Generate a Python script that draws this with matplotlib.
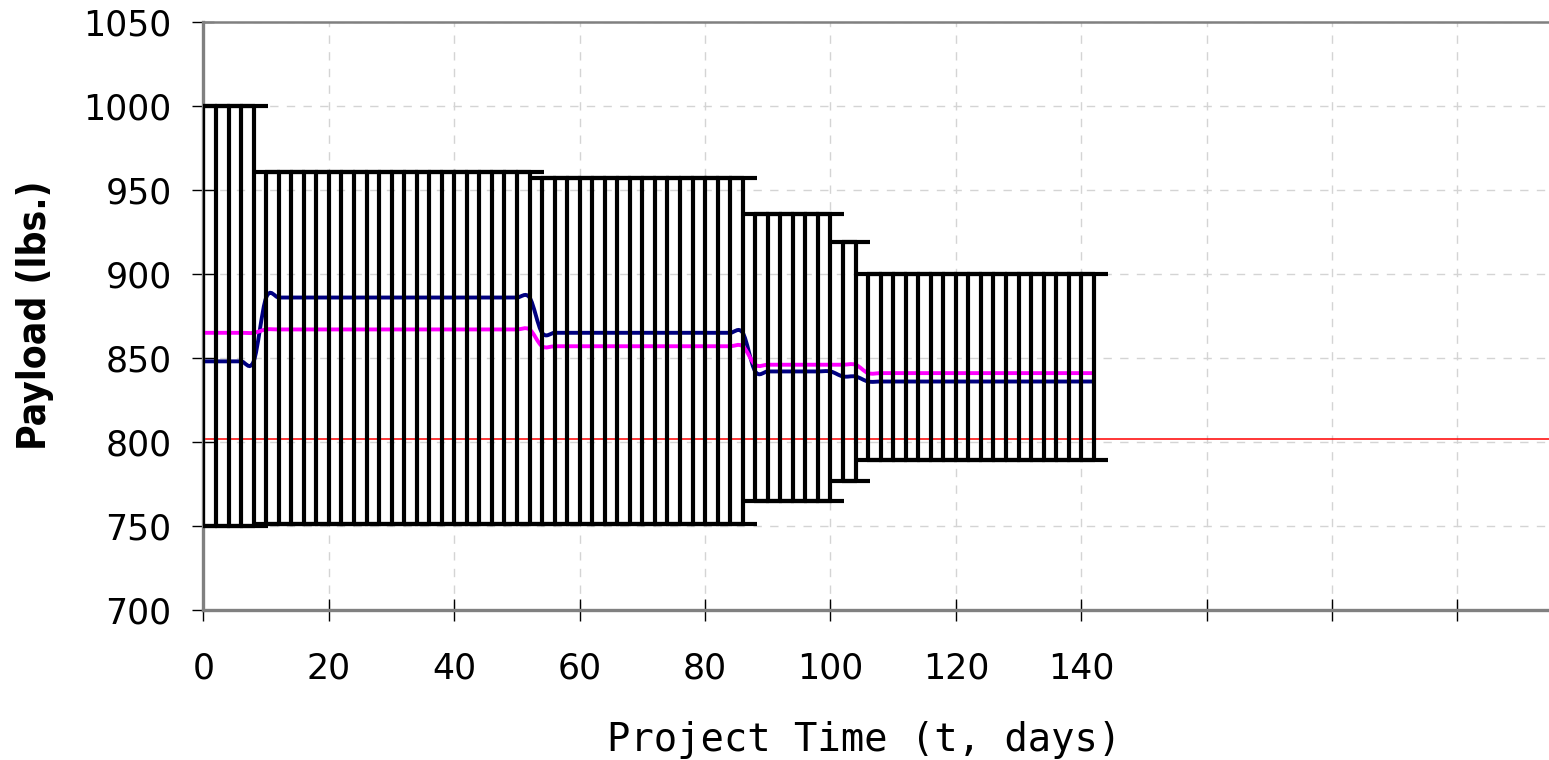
"""
Payload estimate over project time: uncertainty bands per design phase,
tracked payload (navy), mean estimate (magenta) and requirement line (red).
"""

import numpy as np
import matplotlib.pyplot as plt
from matplotlib.path import Path
from matplotlib.patches import PathPatch

# Design phases: first and last sample day of each phase
seg_first_day = [0, 10, 54, 88, 102, 106]
seg_last_day = [8, 52, 86, 100, 104, 142]
sample_step = 2

# Payload range and estimates per phase (lbs.)
seg_low = [750, 751, 751, 765, 777, 789]
seg_high = [1000, 961, 957, 936, 919, 900]
seg_tracked = [848, 886, 865, 842, 839, 836]
seg_mean = [865, 867, 857, 846, 846, 841]

requirement = 802

x_ticks = [0, 20, 40, 60, 80, 100, 120, 140, 160, 180, 200]
x_tick_labels = ["0", "20", "40", "60", "80", "100", "120", "140", "", "", ""]
y_ticks = [700, 750, 800, 850, 900, 950, 1000, 1050]


def expandSegments(values):
    """
    Repeats one value per phase for every sample day of that phase.
    """
    days, out = [], []
    for first, last, v in zip(seg_first_day, seg_last_day, values):
        for d in range(first, last + 1, sample_step):
            days.append(d)
            out.append(v)
    return np.array(days), np.array(out, dtype=float)


def smoothPath(x, y):
    """
    Builds a smoothed (Catmull-Rom style) bezier path through the points,
    like the smoothed line option of a spreadsheet chart.
    """
    pts = np.column_stack([x, y])
    verts = [pts[0]]
    codes = [Path.MOVETO]
    n = len(pts)
    for i in range(n - 1):
        p0 = pts[max(i - 1, 0)]
        p1 = pts[i]
        p2 = pts[i + 1]
        p3 = pts[min(i + 2, n - 1)]
        c1 = p1 + (p2 - p0) / 6.0
        c2 = p2 - (p3 - p1) / 6.0
        verts += [c1, c2, p2]
        codes += [Path.CURVE4] * 3
    return Path(verts, codes)


def main():
    days, low = expandSegments(seg_low)
    _, high = expandSegments(seg_high)
    _, tracked = expandSegments(seg_tracked)
    _, mean = expandSegments(seg_mean)

    fig = plt.figure(figsize=(15.49, 7.6), dpi=100)
    ax = fig.add_axes([203.5 / 1549, 150 / 760, 1 - 203.5 / 1549, 588 / 760])

    ax.set_xlim(0, 214.6)
    ax.set_ylim(700, 1050)

    # grid
    ax.grid(True, color="#d4d4d4", linestyle=(0, (6, 6)), linewidth=1.0)
    ax.set_axisbelow(True)

    # requirement line
    ax.axhline(requirement, color="#ff0000", linewidth=1.1, zorder=2)

    # tracked and mean payload, smoothed
    ax.add_patch(PathPatch(smoothPath(days, tracked), facecolor="none",
                           edgecolor="#000080", linewidth=2.8, zorder=3))
    ax.add_patch(PathPatch(smoothPath(days, mean), facecolor="none",
                           edgecolor="#ff00ff", linewidth=2.8, zorder=3))

    # uncertainty bars
    mid = (low + high) / 2.0
    ax.errorbar(days, mid, yerr=[mid - low, high - mid], fmt="none",
                ecolor="black", elinewidth=3.0, capsize=10, capthick=3.0,
                zorder=4)

    ax.set_xticks(x_ticks)
    ax.set_xticklabels(x_tick_labels)
    ax.set_yticks(y_ticks)
    ax.tick_params(axis="both", direction="inout", length=16, width=1.0,
                   color="black", labelsize=25)
    ax.tick_params(axis="x", pad=22)
    ax.tick_params(axis="y", pad=15)

    for side in ["left", "bottom", "top"]:
        ax.spines[side].set_color("#808080")
    ax.spines["left"].set_linewidth(2.4)
    ax.spines["bottom"].set_linewidth(2.4)
    ax.spines["top"].set_linewidth(1.8)
    ax.spines["right"].set_visible(False)

    fig.text(35 / 1549, 1 - 315 / 760, "Payload (lbs.)", rotation=90,
             fontsize=28, fontweight="bold", fontstretch="condensed",
             ha="center", va="center")
    fig.text(864 / 1549, 1 - 740 / 760, "Project Time (t, days)",
             fontsize=28, family="DejaVu Sans Mono", ha="center", va="center")

    plt.savefig("out.png", dpi=100)


if __name__ == '__main__':
    main()
